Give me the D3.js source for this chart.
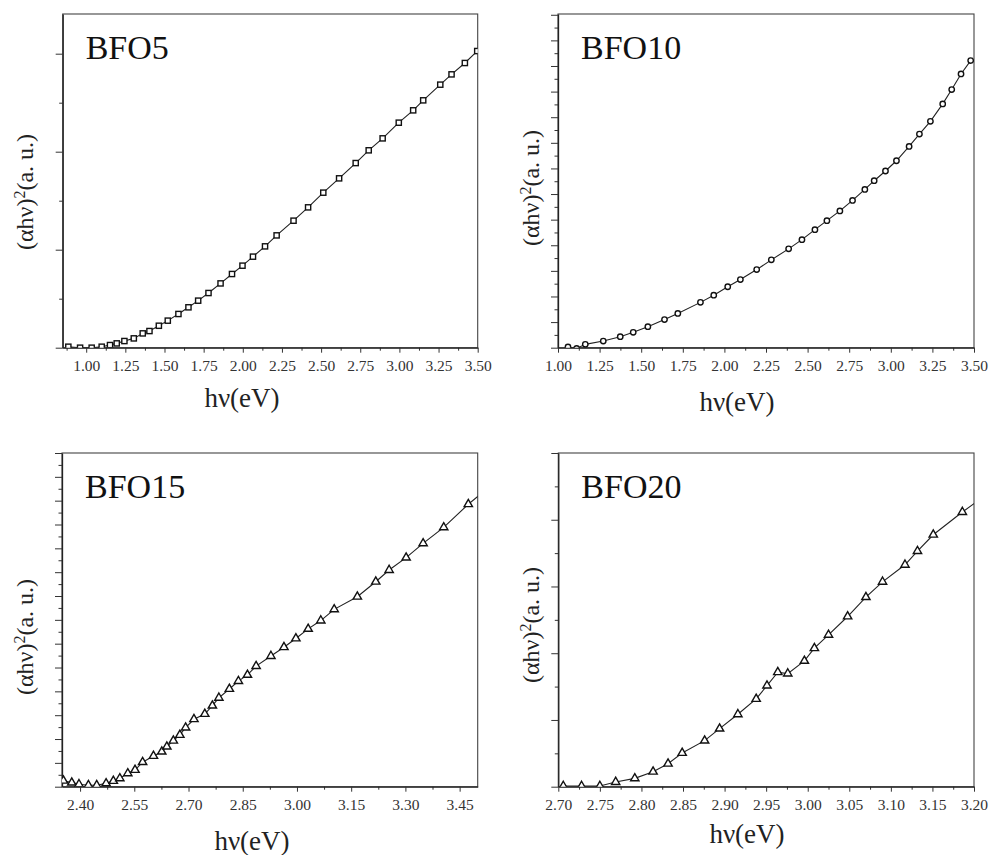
<!DOCTYPE html>
<html>
<head>
<meta charset="utf-8">
<script src="https://cdn.jsdelivr.net/npm/d3@7/dist/d3.min.js"></script>
<style>
  body { margin: 0; background: #fff; }
  svg { display: block; }
</style>
</head>
<body>
<div id="chart"></div>
<script>
// ---- data ----
const bfo5X = [0.886, 0.961, 1.035, 1.099, 1.152, 1.195, 1.244, 1.304, 1.361, 1.404, 1.464, 1.521, 1.589, 1.653, 1.715, 1.781, 1.858, 1.931, 1.998, 2.065, 2.142, 2.216, 2.324, 2.417, 2.514, 2.615, 2.721, 2.804, 2.893, 2.996, 3.088, 3.152, 3.261, 3.333, 3.418, 3.497];
const bfo5Y = [0.01, 0.0, 0.0, 0.01, 0.027, 0.044, 0.068, 0.095, 0.146, 0.170, 0.224, 0.276, 0.344, 0.412, 0.480, 0.558, 0.656, 0.752, 0.837, 0.929, 1.034, 1.146, 1.296, 1.432, 1.582, 1.728, 1.884, 2.014, 2.136, 2.296, 2.422, 2.524, 2.684, 2.789, 2.905, 3.027];

const bfo10X = [1.06, 1.112, 1.164, 1.272, 1.374, 1.452, 1.54, 1.64, 1.72, 1.856, 1.936, 2.02, 2.096, 2.194, 2.282, 2.386, 2.466, 2.544, 2.616, 2.694, 2.77, 2.844, 2.90, 2.968, 3.034, 3.11, 3.172, 3.238, 3.312, 3.366, 3.422, 3.48];
const bfo10Y = [0.03, -0.03, 0.13, 0.26, 0.43, 0.60, 0.82, 1.10, 1.34, 1.77, 2.05, 2.38, 2.66, 3.05, 3.43, 3.86, 4.22, 4.61, 4.96, 5.34, 5.75, 6.18, 6.52, 6.90, 7.30, 7.86, 8.34, 8.84, 9.52, 10.08, 10.69, 11.21];

const bfo15X = [2.354, 2.377, 2.397, 2.423, 2.446, 2.472, 2.492, 2.510, 2.532, 2.552, 2.573, 2.603, 2.626, 2.640, 2.658, 2.676, 2.692, 2.715, 2.745, 2.766, 2.784, 2.813, 2.838, 2.863, 2.887, 2.928, 2.964, 2.997, 3.031, 3.066, 3.103, 3.167, 3.218, 3.255, 3.302, 3.349, 3.406, 3.474, 3.51];
const bfo15Y = [0.25, 0.17, 0.10, 0.06, 0.06, 0.14, 0.24, 0.35, 0.56, 0.70, 1.03, 1.29, 1.47, 1.68, 1.93, 2.17, 2.48, 2.83, 3.05, 3.40, 3.73, 4.10, 4.43, 4.69, 5.06, 5.48, 5.85, 6.22, 6.62, 6.97, 7.44, 7.97, 8.60, 9.09, 9.61, 10.21, 10.88, 11.85, 12.3];

const bfo20X = [2.706, 2.728, 2.750, 2.769, 2.792, 2.814, 2.832, 2.849, 2.876, 2.894, 2.916, 2.938, 2.951, 2.964, 2.976, 2.996, 3.008, 3.025, 3.048, 3.070, 3.090, 3.117, 3.132, 3.151, 3.186, 3.21];
const bfo20Y = [0.01, 0.01, 0.01, 0.07, 0.125, 0.225, 0.345, 0.505, 0.69, 0.87, 1.085, 1.315, 1.515, 1.715, 1.695, 1.885, 2.075, 2.275, 2.55, 2.84, 3.07, 3.325, 3.53, 3.775, 4.115, 4.33];

// tick values
const bfo5XTicks = [1.00, 1.25, 1.50, 1.75, 2.00, 2.25, 2.50, 2.75, 3.00, 3.25, 3.50];
const bfo10XTicks = [1.00, 1.25, 1.50, 1.75, 2.00, 2.25, 2.50, 2.75, 3.00, 3.25, 3.50];
const bfo15XTicks = [2.40, 2.55, 2.70, 2.85, 3.00, 3.15, 3.30, 3.45];
const bfo20XTicks = [2.70, 2.75, 2.80, 2.85, 2.90, 2.95, 3.00, 3.05, 3.10, 3.15, 3.20];

const sampleNames = ["BFO5", "BFO10", "BFO15", "BFO20"];
const xTitle = "hν(eV)";

const serif = "'Liberation Serif', 'Times New Roman', Times, serif";

// ---- layout (pixel boxes of each frame) ----
const panels = [
  { name: sampleNames[0], xs: bfo5X, ys: bfo5Y, ticks: bfo5XTicks, xDom: [0.85, 3.5], yDom: [0, 3.405], yStep: 1,
    box: { l: 62.7, r: 477.7, t: 14, b: 347.7 }, marker: "square", xt: [242, 407], yt: [25, 192] },
  { name: sampleNames[1], xs: bfo10X, ys: bfo10Y, ticks: bfo10XTicks, xDom: [1.0, 3.5], yDom: [0, 13.03], yStep: 1,
    box: { l: 558, r: 974, t: 14, b: 347.7 }, marker: "circle", xt: [737, 411], yt: [531, 188] },
  { name: sampleNames[2], xs: bfo15X, ys: bfo15Y, ticks: bfo15XTicks, xDom: [2.35, 3.5], yDom: [0, 14], yStep: 1,
    box: { l: 62, r: 477.7, t: 453, b: 786.7 }, marker: "triangle", xt: [252, 850], yt: [25, 637] },
  { name: sampleNames[3], xs: bfo20X, ys: bfo20Y, ticks: bfo20XTicks, xDom: [2.70, 3.20], yDom: [0, 5], yStep: 1,
    box: { l: 558.3, r: 974, t: 453, b: 786.7 }, marker: "triangle", xt: [747, 843], yt: [531, 625] },
];

const svg = d3.select("#chart").append("svg")
  .attr("width", 989)
  .attr("height", 855)
  .attr("font-family", serif);

const fmt = d3.format(".2f");

panels.forEach((p, i) => {
  const { l, r, t, b } = p.box;
  const x = d3.scaleLinear().domain(p.xDom).range([l, r]);
  const y = d3.scaleLinear().domain(p.yDom).range([b, t]);

  // tick positions: majors from the tick arrays, minors halfway
  const step = p.ticks[1] - p.ticks[0];
  const xMinor = d3.range(p.ticks[0] - step / 2, p.xDom[1] + 1e-9, step)
    .filter((v) => v >= p.xDom[0] - 1e-9 && v <= p.xDom[1] + 1e-9);
  const yMajor = d3.range(0, p.yDom[1] + 1e-9, p.yStep);
  const yMinor = d3.range(p.yStep / 2, p.yDom[1] + 1e-9, p.yStep);

  const g = svg.append("g");

  // clip for the plot area
  svg.append("clipPath").attr("id", `clip${i}`)
    .append("rect").attr("x", l).attr("y", t).attr("width", r - l).attr("height", b - t);

  // frame
  g.append("rect")
    .attr("x", l).attr("y", t).attr("width", r - l).attr("height", b - t)
    .attr("fill", "none").attr("stroke", "#444").attr("stroke-width", 1.1);

  // x minor ticks
  g.append("g")
    .attr("transform", `translate(0,${b})`)
    .call(d3.axisBottom(x).tickValues(xMinor).tickSize(3).tickSizeOuter(0).tickFormat(""))
    .call((s) => s.select(".domain").remove());

  // x major ticks + labels
  const xa = g.append("g")
    .attr("transform", `translate(0,${b})`)
    .call(d3.axisBottom(x).tickValues(p.ticks).tickSize(5).tickSizeOuter(0).tickPadding(7).tickFormat(fmt));
  xa.attr("font-family", serif);
  xa.select(".domain").attr("stroke", "#222").attr("stroke-width", 1.3);
  xa.selectAll(".tick text").attr("font-size", 15.5).attr("fill", "#333");

  // y ticks (no labels)
  g.append("g")
    .attr("transform", `translate(${l},0)`)
    .call(d3.axisLeft(y).tickValues(yMinor).tickSize(3.5).tickSizeOuter(0).tickFormat(""))
    .call((s) => s.select(".domain").remove());
  const ya = g.append("g")
    .attr("transform", `translate(${l},0)`)
    .call(d3.axisLeft(y).tickValues(yMajor).tickSize(7).tickSizeOuter(0).tickFormat(""));
  ya.select(".domain").attr("stroke", "#222").attr("stroke-width", 1.3);
  g.selectAll(".tick line").attr("stroke", "#333");

  // data
  const pts = p.xs.map((v, k) => [v, p.ys[k]]);
  const plot = g.append("g").attr("clip-path", `url(#clip${i})`);

  plot.append("path")
    .datum(pts)
    .attr("fill", "none")
    .attr("stroke", "#222")
    .attr("stroke-width", 1.1)
    .attr("d", d3.line().x((d) => x(d[0])).y((d) => y(d[1])));

  const inside = pts.filter((d) => d[0] <= p.xDom[1]);
  if (p.marker === "square") {
    plot.selectAll(".m").data(inside).enter().append("rect")
      .attr("x", (d) => x(d[0]) - 2.6).attr("y", (d) => y(d[1]) - 2.6)
      .attr("width", 5.2).attr("height", 5.2)
      .attr("fill", "#fff").attr("stroke", "#111").attr("stroke-width", 1.4);
  } else if (p.marker === "circle") {
    plot.selectAll(".m").data(inside).enter().append("circle")
      .attr("cx", (d) => x(d[0])).attr("cy", (d) => y(d[1])).attr("r", 2.7)
      .attr("fill", "#fff").attr("stroke", "#111").attr("stroke-width", 1.4);
  } else {
    const tri = d3.symbol().type(d3.symbolTriangle).size(30);
    plot.selectAll(".m").data(inside).enter().append("path")
      .attr("d", tri)
      .attr("transform", (d) => `translate(${x(d[0])},${y(d[1])})`)
      .attr("fill", "#fff").attr("stroke", "#111").attr("stroke-width", 1.4);
  }

  // sample name
  g.append("text")
    .attr("x", l + 23).attr("y", t + 45)
    .attr("font-size", 34).attr("fill", "#111")
    .text(p.name);

  // x title
  g.append("text")
    .attr("x", p.xt[0]).attr("y", p.xt[1])
    .attr("text-anchor", "middle").attr("font-size", 27).attr("fill", "#222")
    .text(xTitle);

  // y title
  const yt = g.append("text")
    .attr("transform", `translate(${p.yt[0]},${p.yt[1]}) rotate(-90)`)
    .attr("text-anchor", "middle").attr("dy", "0.35em")
    .attr("font-size", 24).attr("fill", "#222");
  yt.append("tspan").text("(αhν)");
  yt.append("tspan").attr("baseline-shift", "super").attr("font-size", 16).text("2");
  yt.append("tspan").text("(a. u.)");
});
</script>
</body>
</html>
